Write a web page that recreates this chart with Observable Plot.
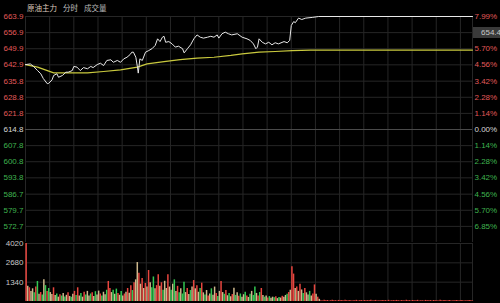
<!DOCTYPE html>
<html><head><meta charset="utf-8">
<script src="https://cdn.jsdelivr.net/npm/d3@7"></script>
<script src="https://cdn.jsdelivr.net/npm/@observablehq/plot@0.6"></script>
<style>
html,body{margin:0;padding:0;background:#000;}
#wrap{position:relative;width:500px;height:303px;background:#000;overflow:hidden;font-family:"Liberation Sans",Arial,sans-serif;}
#title{position:absolute;left:27px;top:2px;font-size:7.5px;line-height:11px;white-space:nowrap;font-family:"Noto Sans CJK SC",sans-serif;}
#title span{margin-right:6px;}
#pricePane{position:absolute;left:0;top:0;}
#volPane{position:absolute;left:0;top:242px;}
#pricePane svg,#volPane svg{overflow:visible;}
#tag{position:absolute;left:473px;top:27px;width:30px;height:11px;background:#3a3a3a;color:#c8c8c8;font-size:8px;line-height:11px;padding-left:8px;box-sizing:border-box;}
</style></head>
<body><div id="wrap"><div id="title"></div><div id="pricePane"></div><div id="volPane"></div><div id="tag"></div></div>
<script>
// ---- header texts ----
const titleParts = ["原油主力", "分时", "成交量"];
const titleColors = ["#dcc8bc", "#c0c0c0", "#b8b8b8"];

// ---- price axis ----
const prevClose = 614.8;
const priceTicks = [663.9, 656.9, 649.9, 642.9, 635.8, 628.8, 621.8, 614.8, 607.8, 600.8, 593.8, 586.7, 579.7, 572.7];
// the 656.9 row's percent label is hidden behind the price tag in the reference
const pctLabels = ["7.99%", "", "5.70%", "4.56%", "3.42%", "2.28%", "1.14%", "0.00%", "1.14%", "2.28%", "3.42%", "4.56%", "5.70%", "6.85%"];
const priceDomain = [565.7, 663.9];
const tagValue = ["654.4"];

// ---- time axis (minutes from session open) ----
const sessionMinutes = [0, 555];
const gridMinutes = [0, 30, 60, 90, 120, 150, 180, 210, 240, 270, 300, 330, 360, 390, 420, 450, 480, 510, 540, 555];

// ---- price line ----
const priceMin = [0, 6, 10, 15, 19, 22, 27, 29, 33, 35, 39, 41, 46, 50, 53, 58, 60, 64, 68, 72, 77, 81, 84, 89, 93, 97, 101, 106, 109, 114, 118, 122, 126, 130, 132, 134, 137, 139, 140, 142, 145, 149, 153, 157, 161, 164, 167, 170, 172, 174, 178, 182, 186, 190, 195, 197, 201, 205, 209, 213, 217, 221, 226, 230, 234, 238, 240, 244, 248, 252, 256, 263, 269, 275, 279, 283, 286, 288, 290, 294, 298, 302, 306, 310, 314, 321, 325, 328, 330, 333, 335, 339, 343, 348, 356, 364, 555];
const priceVal = [643.0, 643.3, 642.2, 640.4, 639.0, 637.0, 634.7, 634.9, 636.4, 638.3, 639.0, 637.5, 638.3, 639.7, 639.7, 640.4, 642.2, 641.9, 640.4, 641.7, 641.2, 642.2, 641.7, 643.0, 643.6, 642.6, 644.8, 645.1, 644.0, 644.8, 644.0, 645.5, 646.2, 647.4, 648.4, 648.4, 646.2, 641.9, 639.3, 645.5, 644.8, 648.4, 649.1, 649.9, 651.3, 654.2, 653.0, 654.9, 655.3, 652.7, 653.0, 652.0, 650.6, 651.0, 649.9, 648.1, 649.9, 651.6, 654.2, 655.9, 654.9, 654.5, 654.9, 655.3, 654.9, 655.9, 654.5, 656.4, 657.1, 656.4, 655.9, 656.4, 654.9, 654.2, 653.5, 652.0, 649.9, 650.6, 654.2, 652.7, 652.0, 652.7, 651.6, 652.5, 652.0, 653.0, 652.5, 653.5, 660.0, 661.7, 661.2, 663.2, 662.6, 663.2, 663.5, 663.9, 663.9];

// ---- average price line ----
const avgMin = [0, 15, 35, 56, 77, 97, 118, 139, 151, 172, 192, 213, 234, 255, 269, 290, 310, 331, 354, 555];
const avgVal = [643.0, 641.9, 639.4, 639.4, 639.4, 640.0, 640.7, 641.9, 643.3, 644.3, 645.2, 645.8, 646.2, 647.0, 647.7, 648.4, 648.7, 649.1, 649.3, 649.3];

// ---- volume (one bar per 2 minutes) ----
const volTicks = [4020, 2680, 1340];
const volDomain = [0, 4020];
const volumes = [4020, 1050,950,700,880,600,1000, 1390, 500,620,450, 1500, 1100,700,900,620,480, 950, 420,520,300,460,380,560,320,430,610,350,290,500,700,420, 950, 380,560,300,640,450,700,380,520,600,340,680,450, 720, 520,380,640,460,780, 1390, 900,620,780,500,860,560,430,700,380,520,640, 900,580,1100,760,1300,1500, 2700, 1950,1200,1600,900,1250,1000, 2150, 1300,950,1700,880,1100, 1850, 1050,1300,780,1400,900, 1850, 1000,780,1200, 1500, 700,1050,600,880,520, 1340, 620,900,480,760,1000, 1450, 880,1100,640,900, 1270, 600,450,760,380,520,880,430,1000,560,340,700, 1390, 620,500,760,400,560,330,480, 920, 420,600,360,520,300,470,640,380,280,500,700,420, 1000, 560,380,620, 900, 420,300,380,250,340,220,300,260,330,200,280,240,360,300,420,500,620,780, 2400, 1900, 900,1000,700, 1200, 800,550,900,600,450,700,380,520, 1150, 500,300,150,
  60,40,80,50,70,35,55,90,45,60,30,75,50,65,40,85,55,45,70,35,60,50,80,40,55,65,30,70,45,60,50,90,40,55,75,35,60,45,70,50,65,40,80,30,55,60,45,75,50,35,65,55,40,85,50,60,35,70,45,55,80,40,60,50,30,75,55,45,65,40,70,50,60,35,80,45,55,65,40,50,70,30,60,45,75,55,40,65,50,35,60,45,70,50,40];
const volumeDirs = ("r" + "trttgr" + "g" + "trg" + "t" + "grgtt" + "r" + "tgtrgtgtrtgtrg" + "r" + "tgtrgttgrtgt" + "t" + "rgttg" + "r" + "rtgtgrtgtrt" + "rtrgrt" + "t" + "rtrtrt" + "r" + "tggtr" + "r" + "trgtt" + "r" + "tgt" + "g" + "trgtg" + "g" + "trtgt" + "r" + "trtg" + "r" + "tgtrtgttrgt" + "r" + "tgrtgtr" + "t" + "gtrgttgrtgtg" + "g" + "trg" + "r" + "tgtrgttgrtgtrttgrt" + "r" + "r" + "trt" + "r" + "tgrttgtr" + "r" + "trt").split("");

// ---- colours ----
const upColor = "#e05a5a", downColor = "#3fb24f", flatColor = "#d8d8d8";
const barColors = {r: "#e8463f", g: "#33c752", t: "#cdb88c"};
const gridColor = "#262626", zeroGridColor = "#4a4a4a";

// header
const title = document.getElementById("title");
titleParts.forEach((t, i) => {
  const s = document.createElement("span");
  s.textContent = t; s.style.color = titleColors[i];
  title.appendChild(s);
});
document.getElementById("tag").textContent = tagValue[0];

const priceData = priceMin.map((m, i) => ({m, v: priceVal[i]}));
const avgData = avgMin.map((m, i) => ({m, v: avgVal[i]}));
const tickColor = d => d > prevClose ? upColor : d < prevClose ? downColor : flatColor;
const font = {background: "transparent", fontFamily: "'Liberation Sans', Arial, sans-serif", fontSize: "8px"};
const pctTicks = priceTicks.filter((d, i) => pctLabels[i] !== "");

const pricePlot = Plot.plot({
  width: 500, height: 243,
  marginLeft: 25, marginRight: 28, marginTop: 16, marginBottom: 1,
  x: {domain: sessionMinutes, axis: null},
  y: {domain: priceDomain, axis: null},
  color: {type: "identity"},
  style: font,
  marks: [
    Plot.ruleX(gridMinutes, {x: d => d, stroke: gridColor}),
    Plot.ruleY(priceTicks, {y: d => d, stroke: d => d === prevClose ? zeroGridColor : gridColor}),
    Plot.line(avgData, {x: "m", y: "v", stroke: "#c9c93e", strokeWidth: 1.2}),
    Plot.line(priceData, {x: "m", y: "v", stroke: "#e8e8e8", strokeWidth: 1}),
    Plot.text(priceTicks, {y: d => d, text: d => d.toFixed(1), frameAnchor: "left", textAnchor: "end", dx: -2, fill: tickColor}),
    Plot.text(pctTicks, {y: d => d, text: d => pctLabels[priceTicks.indexOf(d)], frameAnchor: "right", textAnchor: "start", dx: 2, fill: tickColor})
  ]
});
document.getElementById("pricePane").appendChild(pricePlot);

const volData = volumes.map((v, i) => ({m: i * 2 + 0.8, v, c: volumeDirs[i] || "r"}));
const volPlot = Plot.plot({
  width: 500, height: 61,
  marginLeft: 25, marginRight: 28, marginTop: 5, marginBottom: 2,
  x: {domain: sessionMinutes, axis: null},
  y: {domain: volDomain, axis: null, range: [59, 1]},
  color: {type: "identity"},
  style: font,
  marks: [
    Plot.ruleX(gridMinutes, {x: d => d, y1: 0, y2: 4020, stroke: gridColor}),
    Plot.ruleY(volTicks, {y: d => d, stroke: gridColor}),
    Plot.ruleX(volData, {x: "m", y1: 0, y2: "v", stroke: d => barColors[d.c], strokeWidth: 1.5}),
    Plot.text(volTicks, {y: d => d, text: d => String(d), frameAnchor: "left", textAnchor: "end", dx: -2, fill: "#c8c8c8"})
  ]
});
document.getElementById("volPane").appendChild(volPlot);
</script>
</body></html>
